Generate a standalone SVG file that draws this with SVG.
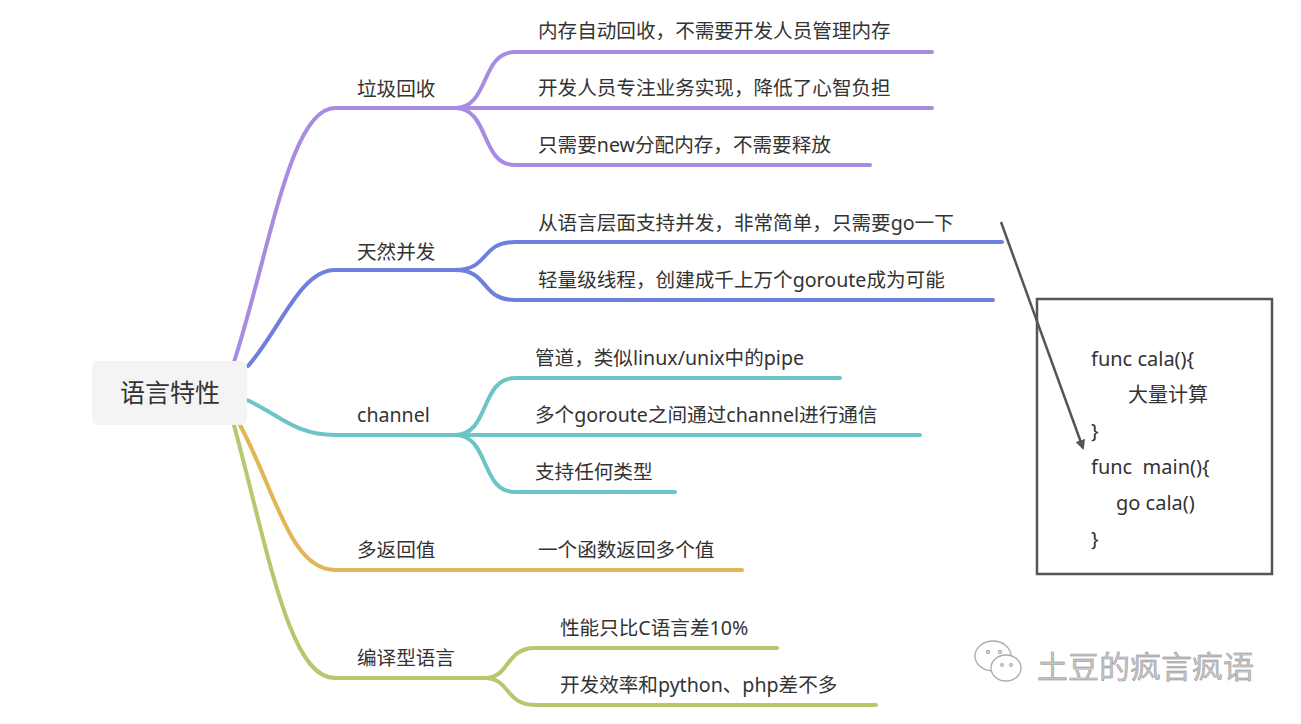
<svg xmlns="http://www.w3.org/2000/svg" width="1301" height="724" viewBox="0 0 1301 724">
<style>
text{font-family:"Noto Sans","Noto Sans CJK SC",sans-serif;fill:#333;font-size:19.6px}
.b{fill:none;stroke-width:4;stroke-linecap:round}
.p{stroke:#a78ce0}.u{stroke:#6e80dc}.t{stroke:#6cc4c6}.o{stroke:#e1b654}.g{stroke:#b4c86e}
.code{font-size:20px}
.wm{fill:#c4c4c4;font-size:31px;stroke:#888;stroke-width:0.4}
</style>
<defs><marker id="ah" markerWidth="10" markerHeight="10" refX="8" refY="5" orient="auto" markerUnits="userSpaceOnUse"><path d="M0,0 L10,5 L0,10 z" fill="#555"/></marker></defs>
<rect width="1301" height="724" fill="#fff"/>
<g id="code"><rect x="1037" y="299" width="235" height="275" fill="none" stroke="#555" stroke-width="2.5"/>
<text class="code" x="1091" y="366">func cala(){</text>
<text class="code" x="1128" y="402">大量计算</text>
<text class="code" x="1091" y="438">}</text>
<text class="code" x="1091" y="474" xml:space="preserve">func  main(){</text>
<text class="code" x="1116" y="510">go cala()</text>
<text class="code" x="1091" y="546">}</text></g>
<g id="connectors">
<path class="b p" d="M234,362 C270,250 290,108 335,108 L455,108 M455,108 C490,108 480,52 515,52 L932,52 M455,108 L932,108 M455,108 C490,108 480,165 515,165 L870,165"/>
<path class="b u" d="M248,366 C280,330 300,270 335,270 L455,270 M455,270 C490,270 480,242 515,242 L1002,242 M455,270 C490,270 480,300 515,300 L993,300"/>
<path class="b t" d="M247,400 C280,415 295,435 335,435 L455,435 M455,435 C490,435 480,378 515,378 L840,378 M455,435 L920,435 M455,435 C490,435 480,492 515,492 L675,492"/>
<path class="b o" d="M240,425 C275,490 290,570 335,570 L742,570"/>
<path class="b g" d="M234,425 C270,560 290,678 335,678 L485,678 M485,678 C510,678 505,648 535,648 L777,648 M485,678 C510,678 505,705 535,705 L876,705"/>
<line x1="1001" y1="222" x2="1083" y2="448" stroke="#555" stroke-width="2.5" marker-end="url(#ah)"/>
</g>
<g id="root"><rect x="92" y="361" width="155" height="64" rx="6" fill="#f4f4f4"/><text x="170" y="402" text-anchor="middle" style="font-size:25px">语言特性</text></g>
<g id="n1"><text x="357" y="96">垃圾回收</text></g>
<g id="n1a"><text x="538" y="38">内存自动回收，不需要开发人员管理内存</text></g>
<g id="n1b"><text x="538" y="95">开发人员专注业务实现，降低了心智负担</text></g>
<g id="n1c"><text x="538" y="152">只需要new分配内存，不需要释放</text></g>
<g id="n2"><text x="357" y="259">天然并发</text></g>
<g id="n2a"><text x="538" y="230">从语言层面支持并发，非常简单，只需要go一下</text></g>
<g id="n2b"><text x="538" y="287">轻量级线程，创建成千上万个goroute成为可能</text></g>
<g id="n3"><text x="357" y="422">channel</text></g>
<g id="n3a"><text x="535" y="365">管道，类似linux/unix中的pipe</text></g>
<g id="n3b"><text x="535" y="422">多个goroute之间通过channel进行通信</text></g>
<g id="n3c"><text x="535" y="479">支持任何类型</text></g>
<g id="n4"><text x="357" y="557">多返回值</text></g>
<g id="n4a"><text x="538" y="557">一个函数返回多个值</text></g>
<g id="n5"><text x="357" y="665">编译型语言</text></g>
<g id="n5a"><text x="560" y="635">性能只比C语言差10%</text></g>
<g id="n5b"><text x="560" y="692">开发效率和python、php差不多</text></g>
<g id="watermark" fill="none" stroke="#aaa" stroke-width="1.3">
<ellipse cx="993" cy="656" rx="18" ry="15"/><ellipse cx="1006" cy="668" rx="15" ry="13" fill="#fff"/>
<circle cx="988" cy="652" r="1.5"/><circle cx="1000" cy="652" r="1.5"/><circle cx="1002" cy="665" r="1.3"/><circle cx="1011" cy="665" r="1.3"/>
<text class="wm" x="1037" y="678">土豆的疯言疯语</text></g>
</svg>
